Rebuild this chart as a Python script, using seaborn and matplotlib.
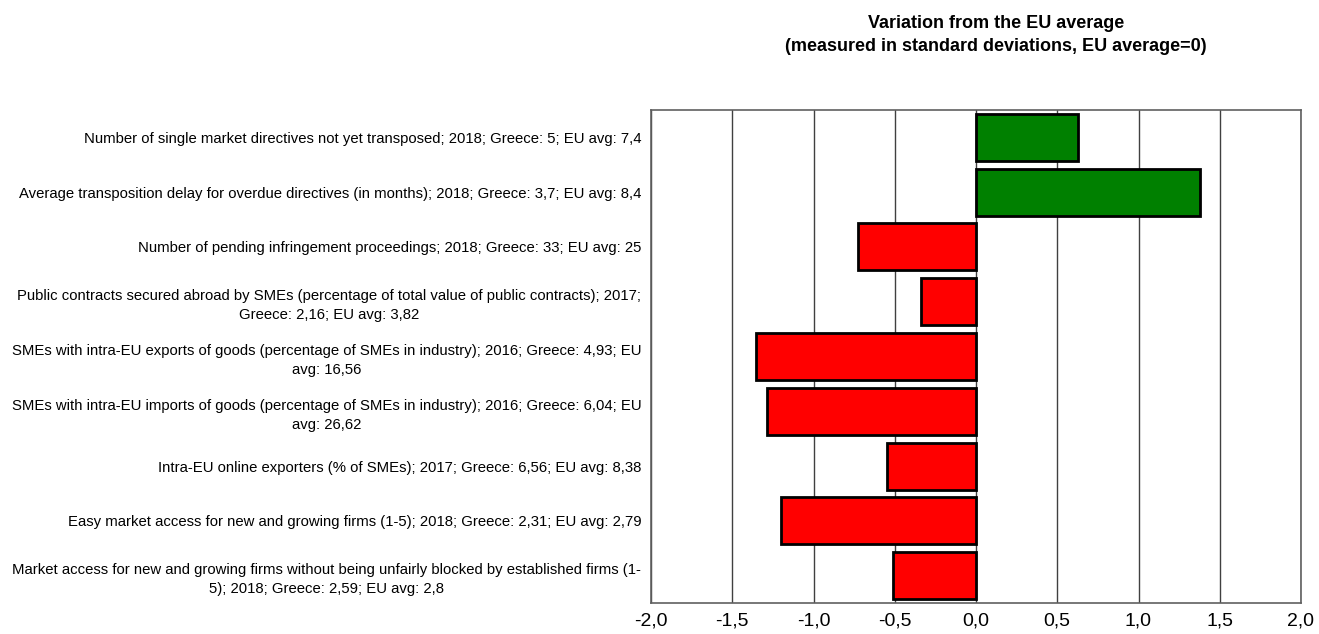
import matplotlib
matplotlib.use("Agg")
import matplotlib.pyplot as plt
import seaborn as sns
import pandas as pd
from matplotlib.ticker import FuncFormatter

labels = [
    "Number of single market directives not yet transposed; 2018; Greece: 5; EU avg: 7,4",
    "Average transposition delay for overdue directives (in months); 2018; Greece: 3,7; EU avg: 8,4",
    "Number of pending infringement proceedings; 2018; Greece: 33; EU avg: 25",
    "Public contracts secured abroad by SMEs (percentage of total value of public contracts); 2017;\nGreece: 2,16; EU avg: 3,82",
    "SMEs with intra-EU exports of goods (percentage of SMEs in industry); 2016; Greece: 4,93; EU\navg: 16,56",
    "SMEs with intra-EU imports of goods (percentage of SMEs in industry); 2016; Greece: 6,04; EU\navg: 26,62",
    "Intra-EU online exporters (% of SMEs); 2017; Greece: 6,56; EU avg: 8,38",
    "Easy market access for new and growing firms (1-5); 2018; Greece: 2,31; EU avg: 2,79",
    "Market access for new and growing firms without being unfairly blocked by established firms (1-\n5); 2018; Greece: 2,59; EU avg: 2,8",
]
values = [0.63, 1.38, -0.726, -0.34, -1.351, -1.285, -0.545, -1.197, -0.51]
xticks = [-2.0, -1.5, -1.0, -0.5, 0.0, 0.5, 1.0, 1.5, 2.0]
title = "Variation from the EU average\n(measured in standard deviations, EU average=0)"

sns.set_theme(style="white")
plt.rcParams['font.family'] = ['Liberation Sans', 'DejaVu Sans']
plt.rcParams['text.color'] = 'black'
plt.rcParams['xtick.color'] = 'black'
plt.rcParams['ytick.color'] = 'black'

df = pd.DataFrame({"label": labels, "value": values})
df["sign"] = ["pos" if v >= 0 else "neg" for v in values]

fig = plt.figure(figsize=(13.19, 6.34), dpi=100)
ax = fig.add_axes([651/1319, 1-603/634, 650/1319, 493/634])

ax.set_axisbelow(True)
for t in xticks:
    ax.axvline(t, color="#404040", lw=1.0, zorder=0)

sns.barplot(data=df, x="value", y="label", hue="sign", orient="h",
            palette={"pos": "#008000", "neg": "#ff0000"}, saturation=1,
            dodge=False, width=0.86, edgecolor="black", linewidth=2,
            legend=False, ax=ax, zorder=2)

ax.set_xlim(-2, 2)
ax.set_ylim(len(labels) - 0.5, -0.5)
ax.set_xticks(xticks)
ax.xaxis.set_major_formatter(FuncFormatter(lambda v, p: f"{v:.1f}".replace(".", ",")))
ax.set_xlabel("")
ax.set_ylabel("")
ax.tick_params(axis="y", length=0, pad=7, labelsize=10.7, labelcolor="black")
ax.tick_params(axis="x", length=0, pad=7, labelsize=14, labelcolor="black")
for lab in ax.get_yticklabels():
    lab.set_ha("right")
    lab.set_multialignment("center")
    lab.set_linespacing(1.45)
for s in ax.spines.values():
    s.set_color("#606060")
    s.set_linewidth(1.2)
    s.set_visible(True)

fig.text(996/1319, 1-35/634, title, ha="center", va="center",
         fontsize=13, fontweight="bold", linespacing=1.45, color="black")

fig.savefig("out.png", dpi=100)
